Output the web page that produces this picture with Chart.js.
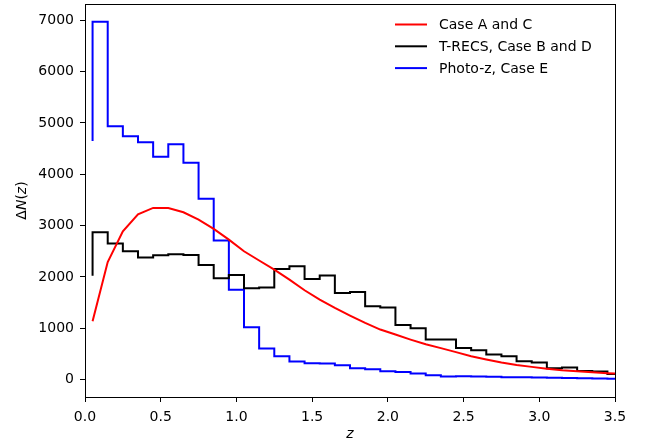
<!DOCTYPE html>
<html>
<head>
<meta charset="utf-8">
<script src="https://cdn.jsdelivr.net/npm/chart.js@4/dist/chart.umd.min.js"></script>
<style>
  html, body { margin: 0; padding: 0; background: #fff; }
  #wrap { width: 650px; height: 445px; position: relative; }
</style>
</head>
<body>
<div id="wrap"><canvas id="c" width="650" height="445"></canvas></div>
<script>
// Redshift sample positions (bin edges for the step curves, nodes for the smooth curve)
const zValues = [0.05, 0.15, 0.25, 0.35, 0.45, 0.55, 0.65, 0.75, 0.85, 0.95,
                 1.05, 1.15, 1.25, 1.35, 1.45, 1.55, 1.65, 1.75, 1.85, 1.95,
                 2.05, 2.15, 2.25, 2.35, 2.45, 2.55, 2.65, 2.75, 2.85, 2.95,
                 3.05, 3.15, 3.25, 3.35, 3.45, 3.55];

// Case A and C (smooth red curve)
const caseAC = [1136, 2290, 2890, 3220, 3344, 3344, 3259, 3117, 2935, 2727,
                2500, 2320, 2143, 1948, 1740, 1558, 1396, 1247, 1104, 974,
                877, 779, 688, 612, 535, 454, 390, 331, 285, 247,
                212, 182, 160, 143, 125, 110];

// T-RECS, Case B and D (black step histogram)
const trecsBD = [2025, 2870, 2650, 2500, 2377, 2422, 2441, 2428, 2234, 1974,
                 2039, 1779, 1792, 2156, 2208, 1961, 2026, 1688, 1708, 1428,
                 1402, 1065, 1000, 779, 779, 617, 571, 487, 454, 357,
                 331, 221, 234, 169, 156, 110];

// Photo-z, Case E (blue step histogram)
const photozE = [4650, 6970, 4935, 4740, 4625, 4340, 4585, 4225, 3525, 2710,
                 1750, 1020, 605, 455, 350, 320, 315, 280, 220, 200,
                 160, 145, 120, 85, 60, 65, 60, 55, 45, 45,
                 40, 35, 30, 25, 20, 18];

const seriesLabels = ['Case A and C', 'T-RECS, Case B and D', 'Photo-z, Case E'];
const xTicks = [0.0, 0.5, 1.0, 1.5, 2.0, 2.5, 3.0, 3.5];
const yTicks = [0, 1000, 2000, 3000, 4000, 5000, 6000, 7000];

const FONT = "'DejaVu Sans', sans-serif";

function pts(ys) { return zValues.map((x, i) => ({ x: x, y: ys[i] })); }

const framePlugin = {
  id: 'frame',
  afterDraw(chart) {
    const ctx = chart.ctx;
    const a = chart.chartArea;
    ctx.save();
    // box
    ctx.strokeStyle = '#000';
    ctx.lineWidth = 1;
    ctx.strokeRect(Math.round(a.left) + 0.5, Math.round(a.top) + 0.5,
                   Math.round(a.right - a.left), Math.round(a.bottom - a.top));
    // legend (frameless, upper right)
    const ds = chart.data.datasets;
    ctx.font = '14px ' + FONT;
    ctx.textBaseline = 'middle';
    ctx.textAlign = 'left';
    const x0 = 395, x1 = 427, tx = 439;
    let y = 24.5;
    ds.forEach(d => {
      ctx.strokeStyle = d.borderColor;
      ctx.lineWidth = 2;
      ctx.beginPath();
      ctx.moveTo(x0, y);
      ctx.lineTo(x1, y);
      ctx.stroke();
      ctx.fillStyle = '#000';
      ctx.fillText(d.label, tx, y + 1);
      y += 21.8;
    });
    // y axis title: ΔN(z) with italic N and z, rotated
    ctx.translate(22, (a.top + a.bottom) / 2);
    ctx.rotate(-Math.PI / 2);
    const parts = [['Δ', false], ['N', true], ['(', false], ['z', true], [')', false]];
    let w = 0;
    parts.forEach(p => { ctx.font = (p[1] ? 'italic ' : '') + '14px ' + FONT; w += ctx.measureText(p[0]).width; });
    let cx = -w / 2;
    ctx.fillStyle = '#000';
    ctx.textBaseline = 'middle';
    parts.forEach(p => {
      ctx.font = (p[1] ? 'italic ' : '') + '14px ' + FONT;
      ctx.fillText(p[0], cx, 0);
      cx += ctx.measureText(p[0]).width;
    });
    ctx.restore();
  }
};

new Chart(document.getElementById('c'), {
  type: 'line',
  data: {
    datasets: [
      { label: seriesLabels[0], data: pts(caseAC), borderColor: '#ff0000', borderWidth: 2,
        pointRadius: 0, tension: 0, fill: false, clip: 0 },
      { label: seriesLabels[1], data: pts(trecsBD), borderColor: '#000000', borderWidth: 2,
        pointRadius: 0, stepped: 'after', fill: false, clip: 0 },
      { label: seriesLabels[2], data: pts(photozE), borderColor: '#0000ff', borderWidth: 2,
        pointRadius: 0, stepped: 'after', fill: false, clip: 0 }
    ]
  },
  options: {
    responsive: false,
    animation: false,
    events: [],
    layout: { padding: { left: 0, right: 35, top: 4, bottom: 0 } },
    plugins: { legend: { display: false }, tooltip: { enabled: false } },
    scales: {
      x: {
        type: 'linear', min: 0, max: 3.5,
        afterBuildTicks(s) { s.ticks = xTicks.map(v => ({ value: v })); },
        afterFit(s) { s.height = 48; s.paddingLeft = 0; s.paddingRight = 0; },
        ticks: { color: '#000', font: { family: FONT, size: 14 }, padding: 7,
                 maxRotation: 0, autoSkip: false,
                 callback: v => Number(v).toFixed(1) },
        grid: { display: true, drawOnChartArea: false, drawTicks: true, tickLength: 5,
                tickColor: '#000', tickWidth: 1 },
        border: { display: false },
        title: { display: true, text: 'z', color: '#000',
                 font: { family: FONT, size: 14, style: 'italic' }, padding: { top: 0, bottom: 2 } }
      },
      y: {
        type: 'linear', min: -340, max: 7318,
        afterBuildTicks(s) { s.ticks = yTicks.map(v => ({ value: v })); },
        afterFit(s) { s.width = 85; s.paddingTop = 0; s.paddingBottom = 0; },
        ticks: { color: '#000', font: { family: FONT, size: 14 }, padding: 6,
                 autoSkip: false, callback: v => String(v) },
        grid: { display: true, drawOnChartArea: false, drawTicks: true, tickLength: 5,
                tickColor: '#000', tickWidth: 1 },
        border: { display: false }
      }
    }
  },
  plugins: [framePlugin]
});
</script>
</body>
</html>
